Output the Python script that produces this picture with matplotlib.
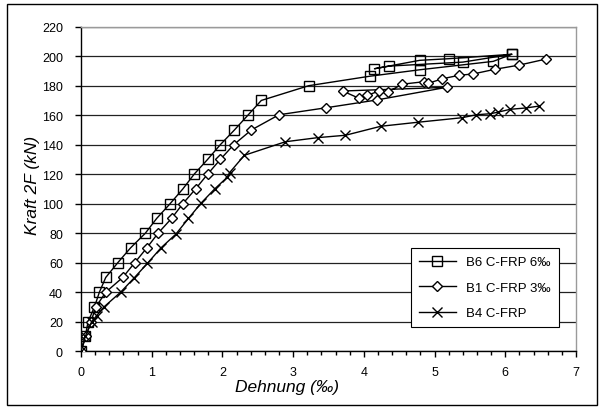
import matplotlib

matplotlib.use("Agg")
import matplotlib.pyplot as plt  # noqa: E402
from matplotlib.patches import Rectangle  # noqa: E402
from matplotlib.ticker import MultipleLocator  # noqa: E402

plt.rcParams["font.family"] = ["Liberation Sans", "DejaVu Sans"]

# B6 C-FRP 6 per mille (squares)
b6_strain = [0.0, 0.06, 0.10, 0.19, 0.26, 0.35, 0.52, 0.70, 0.91, 1.07, 1.26, 1.44, 1.60,
             1.79, 1.97, 2.17, 2.36, 2.55, 3.22, 4.08, 4.79, 5.83, 6.09, 5.20, 4.79, 4.15,
             4.36, 5.40, 6.09]
b6_force = [0, 10, 20, 30, 40, 50, 60, 70, 80, 90, 100, 110, 120,
            130, 140, 150, 160, 170, 180, 186.4, 190.8, 196.5, 201.3, 198.3, 197.2, 191.5,
            193.3, 196.0, 201.3]

# B1 C-FRP 3 per mille (diamonds)
b1_strain = [0.0, 0.07, 0.14, 0.21, 0.35, 0.59, 0.76, 0.93, 1.09, 1.28, 1.44, 1.62, 1.79,
             1.97, 2.16, 2.41, 2.80, 3.46, 4.18, 5.17, 3.70, 3.93, 4.05, 4.21, 4.34, 4.54,
             4.85, 4.91, 5.11, 5.34, 5.55, 5.85, 6.20, 6.57]
b1_force = [0, 10, 20, 30, 40, 50, 60, 70, 80, 90, 100, 110, 120,
            130, 140, 150, 160.3, 165, 170.3, 178.9, 176.4, 171.5, 173.4, 176.4, 175.7, 181,
            182.7, 181.6, 184.7, 187, 188, 191.1, 194, 198]

# B4 C-FRP (crosses)
b4_strain = [0.0, 0.06, 0.15, 0.22, 0.32, 0.56, 0.75, 0.94, 1.13, 1.34, 1.52, 1.70, 1.89,
             2.07, 2.10, 2.31, 2.89, 3.35, 3.74, 4.24, 4.76, 5.39, 5.59, 5.79, 5.89, 6.07,
             6.29, 6.48]
b4_force = [0, 10, 20, 24, 29.8, 40, 49.6, 59.6, 70, 79.3, 90, 100.5, 110,
            118, 121, 132.8, 142, 144.8, 146.4, 152.5, 155.2, 158.3, 160.3, 161, 162, 164,
            164.9, 166.2]

series_labels = ["B6 C-FRP 6‰", "B1 C-FRP 3‰", "B4 C-FRP"]
x_label = "Dehnung (‰)"
y_label = "Kraft 2F (kN)"

W, H = 602, 410
fig = plt.figure(figsize=(W / 100, H / 100), dpi=100)
ax = fig.add_axes([81 / W, 1 - 352.2 / H, (576 - 81) / W, (352.2 - 27.7) / H])

# outer chart frame
fig.patches.append(Rectangle((7 / W, 1 - 406 / H), (597 - 7) / W, (406 - 5) / H,
                             transform=fig.transFigure, fill=False,
                             edgecolor="black", linewidth=1.0))

ax.plot(b6_strain, b6_force, color="black", linewidth=1.0, marker="s", markersize=7,
        markerfacecolor="none", markeredgecolor="black", markeredgewidth=1.0,
        label=series_labels[0], zorder=3)
ax.plot(b1_strain, b1_force, color="black", linewidth=1.0, marker="D", markersize=5,
        markerfacecolor="white", markeredgecolor="black", markeredgewidth=1.0,
        label=series_labels[1], zorder=3)
ax.plot(b4_strain, b4_force, color="black", linewidth=1.0, marker="x", markersize=7,
        markeredgewidth=1.0, label=series_labels[2], zorder=3)

ax.set_xlim(0, 7)
ax.set_ylim(0, 220)
ax.xaxis.set_major_locator(MultipleLocator(1))
ax.xaxis.set_minor_locator(MultipleLocator(0.2))
ax.yaxis.set_major_locator(MultipleLocator(20))
ax.grid(axis="y", color="#222222", linewidth=0.9)
ax.set_axisbelow(True)

for side in ("top", "right"):
    ax.spines[side].set_color("#9a9a9a")
    ax.spines[side].set_linewidth(1.0)
for side in ("left", "bottom"):
    ax.spines[side].set_color("black")
    ax.spines[side].set_linewidth(1.0)

ax.tick_params(axis="both", which="major", direction="out", length=4, width=1,
               labelsize=9)
ax.tick_params(axis="y", which="major", pad=9)
ax.tick_params(axis="x", which="major", pad=7)
ax.tick_params(axis="x", which="minor", direction="out", length=3, width=1)
ax.tick_params(axis="y", which="minor", left=False)

fig.text(286.7 / W, 1 - 388 / H, x_label, ha="center", va="center",
         fontsize=12.5, style="italic")
fig.text(33 / W, 1 - 185 / H, y_label, ha="center", va="center",
         fontsize=12.5, style="italic", rotation=90)

leg = ax.legend(loc="upper left", bbox_to_anchor=((411 - 81) / (576 - 81),
                                                  (352.2 - 249.3) / (352.2 - 27.7)),
                fontsize=9.5, frameon=True, fancybox=False, edgecolor="black",
                framealpha=1, handlelength=2.8, borderpad=0.6, labelspacing=1.0,
                borderaxespad=0)
leg.get_frame().set_linewidth(0.8)

fig.savefig("out.png", dpi=100)
